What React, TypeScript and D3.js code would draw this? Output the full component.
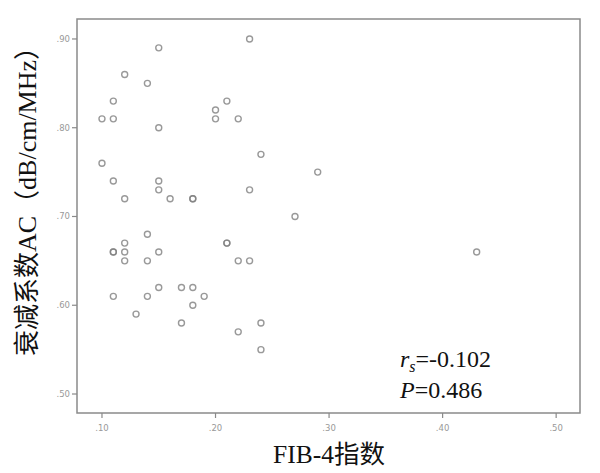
import React from "react";
import * as d3 from "d3";

const fib4 = [
  0.10, 0.10, 0.11, 0.11, 0.11, 0.11, 0.11, 0.11, 0.12, 0.12, 0.12, 0.12, 0.12,
  0.13, 0.14, 0.14, 0.14, 0.14, 0.15, 0.15, 0.15, 0.15, 0.15, 0.15, 0.16, 0.17,
  0.17, 0.18, 0.18, 0.18, 0.18, 0.19, 0.20, 0.20, 0.21, 0.21, 0.21, 0.22, 0.22,
  0.22, 0.23, 0.23, 0.23, 0.24, 0.24, 0.24, 0.27, 0.29, 0.43,
];
const acValues = [
  81, 76, 83, 81, 74, 66, 66, 61, 86, 72, 67, 66, 65,
  59, 85, 68, 65, 61, 89, 80, 74, 73, 66, 62, 72, 62,
  58, 72, 72, 62, 60, 61, 82, 81, 83, 67, 67, 81, 65,
  57, 90, 73, 65, 77, 58, 55, 70, 75, 66,
];
const xTicks = [0.1, 0.2, 0.3, 0.4, 0.5];
const yTicks = [50, 60, 70, 80, 90];

const W = 600;
const H = 473;
const left = 77;
const right = 580;
const top = 19;
const bottom = 413;

export default function App() {
  const x = d3.scaleLinear().domain([0.078, 0.521]).range([left, right]);
  const y = d3.scaleLinear().domain([47.86, 92.25]).range([bottom, top]);
  const fmt = (v: number) => d3.format(".2f")(v).replace(/^0/, "");
  const fmtY = (v: number) => "." + String(v);
  const serif = "'Liberation Serif', 'Times New Roman', 'Noto Sans CJK SC', serif";
  const tickFont = "'DejaVu Sans', 'Liberation Sans', sans-serif";
  return (
    <svg
      width={W}
      height={H}
      style={{ position: "absolute", left: 0, top: 0, background: "#fff" }}
    >
      <rect x={0} y={0} width={W} height={H} fill="#fff" />
      <rect
        x={left}
        y={top}
        width={right - left}
        height={bottom - top}
        fill="none"
        stroke="#8a8a8a"
        strokeWidth={1.5}
      />
      {xTicks.map((t) => (
        <g key={"x" + t}>
          <line x1={x(t)} x2={x(t)} y1={bottom} y2={bottom + 5} stroke="#8a8a8a" strokeWidth={1.2} />
          <text
            x={x(t)}
            y={bottom + 18}
            textAnchor="middle"
            fontSize={8.5}
            fill="#999"
            fontFamily={tickFont}
          >
            {fmt(t)}
          </text>
        </g>
      ))}
      {yTicks.map((t) => (
        <g key={"y" + t}>
          <line x1={left - 5} x2={left} y1={y(t)} y2={y(t)} stroke="#8a8a8a" strokeWidth={1.2} />
          <text
            x={left - 7}
            y={y(t)}
            dy="0.35em"
            textAnchor="end"
            fontSize={8.5}
            fill="#999"
            fontFamily={tickFont}
          >
            {fmtY(t)}
          </text>
        </g>
      ))}
      {fib4.map((v, i) => (
        <circle
          key={i}
          cx={x(v)}
          cy={y(acValues[i])}
          r={3}
          fill="none"
          stroke="#808080"
          strokeOpacity={0.8}
          strokeWidth={1.4}
        />
      ))}
      <text
        x={329}
        y={463}
        textAnchor="middle"
        fontSize={25.5}
        fill="#111"
        fontFamily={serif}
      >
        FIB-4指数
      </text>
      <text
        transform={`translate(36,195) rotate(-90)`}
        textAnchor="middle"
        fontSize={26}
        fill="#111"
        fontFamily={serif}
      >
        衰减系数AC（dB/cm/MHz）
      </text>
      <text x={400} y={367} fontSize={24} fill="#111" fontFamily={serif}>
        <tspan fontStyle="italic">r</tspan>
        <tspan fontStyle="italic" fontSize={16} dy={5}>s</tspan>
        <tspan dy={-5}>=-0.102</tspan>
      </text>
      <text x={400} y={398} fontSize={24} fill="#111" fontFamily={serif}>
        <tspan fontStyle="italic">P</tspan>
        <tspan>=0.486</tspan>
      </text>
    </svg>
  );
}
